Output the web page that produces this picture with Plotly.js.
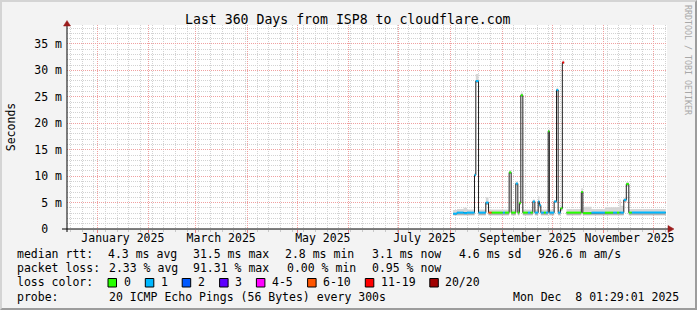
<!DOCTYPE html>
<html><head><meta charset="utf-8">
<script src="https://cdn.plot.ly/plotly-3.0.1.min.js"></script>
<style>
html,body{margin:0;padding:0;background:#f3f3f3;}
#wrap{position:relative;width:697px;height:310px;overflow:hidden;}
#chart{width:697px;height:310px;}
#frame{position:absolute;left:0;top:0;width:697px;height:310px;box-sizing:border-box;border-top:2px solid #d4d4d4;border-left:2px solid #d4d4d4;border-right:2px solid #9c9c9c;border-bottom:2px solid #9c9c9c;pointer-events:none;}
</style></head><body>
<div id="wrap"><div id="chart"></div><div id="frame"></div></div>
<script>
// ---- data (state change points: each value holds until the next time) ----
const changeTimes = [
 '2025-08-02 16:00','2025-08-05 00:00','2025-08-09 00:00','2025-08-11 00:00','2025-08-15 12:00',
 '2025-08-16 07:00','2025-08-17 22:00','2025-08-22 07:00','2025-08-23 22:00','2025-08-25 17:00',
 '2025-09-01 12:00','2025-09-02 17:00','2025-09-05 07:00','2025-09-06 12:00','2025-09-09 07:00',
 '2025-09-10 12:00','2025-09-11 10:00','2025-09-12 07:00','2025-09-13 12:00','2025-09-16 12:00',
 '2025-09-18 00:00','2025-09-19 12:00','2025-09-20 17:00','2025-09-22 17:00','2025-09-23 10:00',
 '2025-09-24 07:00','2025-09-26 02:00','2025-09-27 07:00','2025-09-28 17:00','2025-09-29 10:00',
 '2025-10-02 07:00','2025-10-03 17:00','2025-10-04 17:00','2025-10-06 03:00','2025-10-07 05:00',
 '2025-10-08 07:00','2025-10-09 17:00','2025-10-18 14:00','2025-10-19 12:00','2025-10-24 17:00',
 '2025-11-01 17:00','2025-11-06 17:00','2025-11-08 22:00','2025-11-10 12:00','2025-11-11 06:00',
 '2025-11-13 02:00','2025-11-14 14:00','2025-11-16 02:00','2025-11-17 22:00','2025-12-08 06:00'];
const medianMs = [
 2.9,3.1,3.0,3.1,10.2, 28.0,3.1,5.0,3.1,3.1, 3.1,3.1,10.7,3.1,8.6, 3.1,4.9,25.3,3.1,3.1,
 3.1,5.2,3.1,5.2,4.5, 3.1,3.1,3.1,18.5,3.1, 5.2,26.3,3.1,3.9,31.5, null,3.1,7.0,3.0,3.1,
 3.1,3.1,3.1,3.1,3.1, 5.5,8.5,3.1,3.1,3.1];
const lossBucket = [
 1,1,1,1,1, 1,1,1,5,0, 1,0,0,0,1, 0,0,0,0,1,
 0,1,1,1,1, 1,0,1,0,1, 1,1,1,0,6, null,0,0,0,1,
 0,1,0,1,1, 1,0,0,1,1];
const smokeLowMs = [
 2.6,2.6,2.6,2.6,9.9, 27.6,2.6,4.6,2.6,2.6, 2.6,2.6,10.4,2.6,8.3, 2.6,4.6,25.0,2.6,2.6,
 2.6,4.9,2.6,4.8,4.1, 2.6,2.6,2.6,18.2,2.6, 4.9,26.0,2.6,3.5,31.2, null,2.6,6.7,2.6,2.6,
 2.6,2.6,2.6,2.6,2.6, 5.1,8.2,2.6,2.6,2.6];
const smokeHighMs = [
 3.6,3.8,4.0,3.7,10.6, 29.3,3.7,6.0,3.7,3.7, 3.8,3.7,11.1,3.7,9.0, 3.7,5.3,25.8,3.7,3.7,
 3.7,5.6,3.7,6.2,5.0, 3.7,3.7,3.7,18.9,3.7, 5.5,26.7,3.7,4.3,31.9, null,3.8,7.7,4.2,3.8,
 4.1,4.1,4.1,5.6,4.4, 5.9,8.9,3.8,3.8,3.8];

const lossLabels = ['0','1','2','3','4-5','6-10','11-19','20/20'];
const lossColors = ['#26ff00','#00b8ff','#0059ff','#5e00ff','#ff00ff','#ff5500','#ff0000','#a00000'];

const monthLabelDates = ['2025-01-16 12:00','2025-03-16 12:00','2025-05-16 12:00','2025-07-16 12:00','2025-09-16 12:00','2025-11-16 12:00'];
const monthLabels = ['January 2025','March 2025','May 2025','July 2025','September 2025','November 2025'];
const yTickVals = [0,5,10,15,20,25,30,35];
const yTickText = ['0\u00a0\u00a0','5 m','10 m','15 m','20 m','25 m','30 m','35 m'];

const rttStats = ['4.3 ms avg','31.5 ms max','2.8 ms min','3.1 ms now','4.6 ms sd','926.6 m am/s'];
const lossStats = ['2.33 % avg','91.31 % max','0.00 % min','0.95 % now'];
const probeText = '20 ICMP Echo Pings (56 Bytes) every 300s';
const stampText = 'Mon Dec \u00a08 01:29:01 2025';
const xRange = ['2024-12-14 00:00','2025-12-09 00:00'];

// ---- geometry helpers (pixel -> paper) ----
const L=67, T=25, W=600, H=204, B=229;
const fx = p => (p-L)/W;
const fy = p => (B-p)/H;
const MONO = 'DejaVu Sans Mono';

function stepXY(vals){
  const x=[], y=[];
  for(let i=0;i<changeTimes.length-1;i++){
    const v=vals[i];
    if(v===null){ x.push(changeTimes[i]); y.push(null); continue; }
    x.push(changeTimes[i], changeTimes[i+1]); y.push(v, v);
  }
  return {x, y};
}
function segments(){
  const segs=[]; let cur=[];
  for(let i=0;i<changeTimes.length-1;i++){
    if(medianMs[i]===null){ if(cur.length){segs.push(cur);cur=[];} continue; }
    cur.push(i);
  }
  if(cur.length) segs.push(cur);
  return segs;
}
function bandXY(idx, vals){
  const x=[], y=[];
  idx.forEach(i=>{ x.push(changeTimes[i], changeTimes[i+1]); y.push(vals[i], vals[i]); });
  return {x,y};
}

const traces=[];
segments().forEach(seg=>{
  const lo=bandXY(seg, smokeLowMs), hi=bandXY(seg, smokeHighMs), md=bandXY(seg, medianMs);
  traces.push({x:lo.x,y:lo.y,mode:'lines',line:{width:0,color:'rgba(0,0,0,0)'},hoverinfo:'skip',showlegend:false});
  traces.push({x:hi.x,y:hi.y,mode:'lines',fill:'tonexty',fillcolor:'#d6d6d6',line:{width:0,color:'rgba(0,0,0,0)'},hoverinfo:'skip',showlegend:false});
  traces.push({x:lo.x,y:lo.y,mode:'lines',line:{width:0,color:'rgba(0,0,0,0)'},hoverinfo:'skip',showlegend:false});
  traces.push({x:md.x,y:md.y,mode:'lines',fill:'tonexty',fillcolor:'#b4b4b4',line:{width:0,color:'rgba(0,0,0,0)'},hoverinfo:'skip',showlegend:false});
});
const med = stepXY(medianMs);
traces.push({x:med.x,y:med.y,mode:'lines',line:{width:1,color:'#202020'},connectgaps:false,hoverinfo:'skip',showlegend:false});
lossColors.forEach((c,b)=>{
  const x=[], y=[];
  for(let i=0;i<changeTimes.length-1;i++){
    if(lossBucket[i]===b && medianMs[i]!==null){
      x.push(changeTimes[i], changeTimes[i+1], null); y.push(medianMs[i], medianMs[i], null);
    }
  }
  if(x.length) traces.push({x,y,mode:'lines',line:{width:2,color:c},connectgaps:false,hoverinfo:'skip',showlegend:false,name:lossLabels[b]});
});
// carrier for the month-label axis (no visible marks)
traces.push({x:monthLabelDates,y:monthLabelDates.map(()=>null),xaxis:'x2',yaxis:'y',mode:'lines',hoverinfo:'skip',showlegend:false});

// ---- annotations / shapes ----
const ann=[];
function txt(px,py,text,opts){
  ann.push(Object.assign({xref:'paper',yref:'paper',x:fx(px),y:fy(py),text:text,showarrow:false,
    xanchor:'left',yanchor:'middle',borderpad:0,font:{family:MONO,size:11.5,color:'#000'}},opts||{}));
}
txt(16,254,'median rtt:');
[106.7,192.4,284.4,371.1,457.8,536.9].forEach((p,i)=>txt(p,254,rttStats[i]));
txt(16,268.3,'packet loss:');
[107.6,192.4,285.8,371.1].forEach((p,i)=>txt(p,268.3,lossStats[i]));
txt(16,282.3,'loss color:');
const boxX=[108,145.3,182.2,219.6,256.4,307.6,365.3,429.8];
const boxLabelX=[123,160,197,234,271,321.8,380,444.4];
const shapes=[];
lossLabels.forEach((l,i)=>{
  txt(boxLabelX[i],282.3,l);
  shapes.push({type:'rect',xref:'paper',yref:'paper',x0:fx(boxX[i]),x1:fx(boxX[i]+8.5),y0:fy(287),y1:fy(278.5),
    fillcolor:lossColors[i],line:{color:'#000',width:1},layer:'above'});
});
txt(16,296.7,'probe:');
txt(107.6,296.7,probeText);
txt(680,296.7,stampText,{xanchor:'right'});
txt(688,60,'RRDTOOL / TOBI OETIKER',{xanchor:'center',textangle:90,font:{family:MONO,size:8.3,color:'#a8a8a8'}});

// axis lines + arrows
shapes.push({type:'line',xref:'paper',yref:'paper',x0:fx(62),x1:fx(669),y0:0,y1:0,line:{color:'#000',width:1},layer:'above'});
shapes.push({type:'line',xref:'paper',yref:'paper',x0:0,x1:0,y0:fy(232),y1:fy(25),line:{color:'#000',width:1},layer:'above'});
shapes.push({type:'path',xref:'paper',yref:'paper',
  path:`M ${fx(668)} ${fy(225.5)} L ${fx(674)} ${fy(229)} L ${fx(668)} ${fy(232.5)} Z`,
  fillcolor:'#9b1c1c',line:{color:'#9b1c1c',width:0.5},layer:'above'});
shapes.push({type:'path',xref:'paper',yref:'paper',
  path:`M ${fx(63.5)} ${fy(26)} L ${fx(67)} ${fy(20.5)} L ${fx(70.5)} ${fy(26)} Z`,
  fillcolor:'#9b1c1c',line:{color:'#9b1c1c',width:0.5},layer:'above'});

const layout={
  width:697,height:310,
  margin:{l:L,r:697-L-W,t:T,b:310-B,pad:0},
  paper_bgcolor:'#f3f3f3',plot_bgcolor:'#ffffff',
  font:{family:MONO,size:11.5,color:'#000'},
  showlegend:false,
  title:{text:'Last 360 Days from ISP8 to cloudflare.com',font:{family:MONO,size:13.2,color:'#000'},
    xref:'container',yref:'container',x:347.8/697,y:1-19/310,xanchor:'center',yanchor:'middle'},
  xaxis:{type:'date',range:xRange,showticklabels:false,
    tickmode:'linear',tick0:'2024-12-01',dtick:'M1',
    ticks:'outside',ticklen:3,tickcolor:'#f08080',tickwidth:1,
    showgrid:true,gridcolor:'#f0a0a0',griddash:'1px,1px',gridwidth:1,zeroline:false,showline:false,
    minor:{tick0:'2024-12-16',dtick:604800000,showgrid:true,gridcolor:'#d2d2d2',griddash:'1px,1px',gridwidth:1,
      ticks:'outside',ticklen:2,tickcolor:'#c8c8c8'}},
  xaxis2:{type:'date',range:xRange,overlaying:'x',anchor:'y',side:'bottom',
    tickmode:'array',tickvals:monthLabelDates,ticktext:monthLabels,
    showgrid:false,zeroline:false,showline:false,ticks:'',
    tickfont:{family:MONO,size:11.5,color:'#000'}},
  yaxis:{range:[0,H/5.286],tickmode:'array',tickvals:yTickVals,ticktext:yTickText,
    showgrid:true,gridcolor:'#f0a0a0',griddash:'1px,1px',gridwidth:1,zeroline:false,showline:false,ticks:'',
    ticklabelstandoff:4,tickfont:{family:MONO,size:11.5,color:'#000'},
    minor:{dtick:1,showgrid:true,gridcolor:'#d2d2d2',griddash:'1px,1px',gridwidth:1},
    title:{text:'Seconds',font:{family:MONO,size:11.5,color:'#000'},standoff:16}},
  annotations:ann,shapes:shapes
};
Plotly.newPlot('chart',traces,layout,{staticPlot:true,displayModeBar:false});
</script></body></html>
